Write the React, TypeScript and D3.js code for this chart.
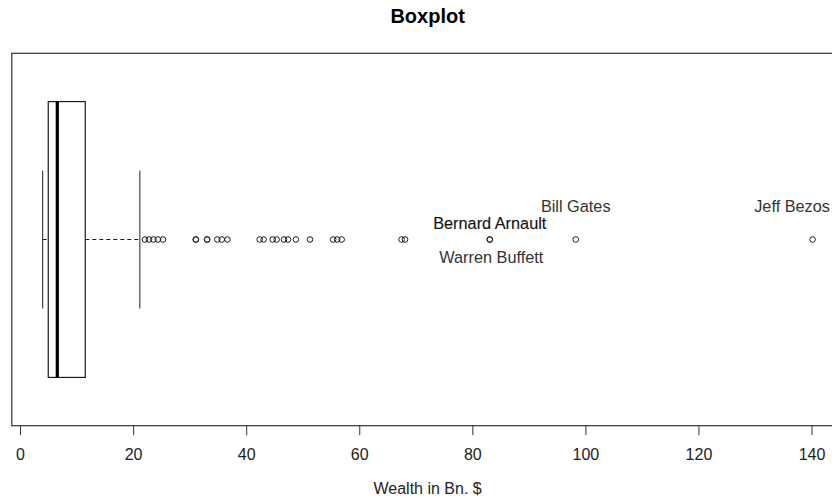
import React from "react";
import * as d3 from "d3";

// Five-number summary of billionaire wealth (Bn. $): lower whisker, Q1, median, Q3, upper whisker
const boxStats = [3.9, 4.9, 6.5, 11.45, 21.1];

// Values beyond the upper whisker
const outliers = [
  22.0, 22.7, 23.5, 24.3, 25.2,
  31.0, 31.0, 33.0, 33.0, 34.8, 35.6, 36.6,
  42.3, 43.0, 44.6, 45.3, 46.6, 47.3, 48.7, 51.2,
  55.3, 56.0, 56.8,
  67.4, 68.0,
  83.0, 83.0, 98.2, 140.1,
];

// Named outliers and their wealth
const names = ["Jeff Bezos", "Bill Gates", "Bernard Arnault", "Warren Buffett"];
const nameValues = [140.1, 98.2, 83.0, 83.0];

const xTicks = [0, 20, 40, 60, 80, 100, 120, 140];

const W = 832;
const H = 499;
const plotLeft = 11.8;
const plotRight = 843.4;
const plotTop = 53.3;
const plotBottom = 425.7;

const FONT = "'Liberation Sans', Arial, Helvetica, sans-serif";

export default function App() {
  const lo = d3.min([boxStats[0], ...outliers]) as number;
  const hi = d3.max([boxStats[4], ...outliers]) as number;
  const pad = (hi - lo) * 0.04;
  const x = d3.scaleLinear().domain([lo - pad, hi + pad]).range([plotLeft, plotRight]);
  // one horizontal group centred at 1
  const y = d3.scaleLinear().domain([0.46, 1.54]).range([plotBottom, plotTop]);

  const [wLo, q1, med, q3, wHi] = boxStats;
  const yc = y(1);
  const boxTop = y(1.4);
  const boxBot = y(0.6);
  const stapTop = y(1.2);
  const stapBot = y(0.8);

  // label placement (pixel offsets from the point)
  const labelLayout: Record<string, { dx: number; dy: number; bold?: boolean }> = {
    "Jeff Bezos": { dx: -20.5, dy: -28 },
    "Bill Gates": { dx: 0, dy: -28 },
    "Bernard Arnault": { dx: 0, dy: -11, bold: true },
    "Warren Buffett": { dx: 1.5, dy: 23 },
  };

  const ink = "#1a1a1a";

  return (
    <div style={{ position: "absolute", left: 0, top: 0 }}>
      <svg width={W} height={H} style={{ display: "block", background: "#fff" }}>
        <text
          x={(plotLeft + plotRight) / 2}
          y={23}
          textAnchor="middle"
          fontFamily={FONT}
          fontWeight="bold"
          fontSize={20}
          fill="#000"
        >
          Boxplot
        </text>

        {/* plot frame */}
        <rect
          x={plotLeft}
          y={plotTop}
          width={plotRight - plotLeft}
          height={plotBottom - plotTop}
          fill="none"
          stroke="#333"
          strokeWidth={1.2}
        />

        {/* whiskers */}
        <line x1={x(wLo)} x2={x(q1)} y1={yc} y2={yc} stroke={ink} strokeDasharray="4,3" />
        <line x1={x(q3)} x2={x(wHi)} y1={yc} y2={yc} stroke={ink} strokeDasharray="4,3" />
        <line x1={x(wLo)} x2={x(wLo)} y1={stapTop} y2={stapBot} stroke="#444" strokeWidth={1.2} />
        <line x1={x(wHi)} x2={x(wHi)} y1={stapTop} y2={stapBot} stroke="#444" strokeWidth={1.2} />

        {/* box */}
        <rect
          x={x(q1)}
          y={boxTop}
          width={x(q3) - x(q1)}
          height={boxBot - boxTop}
          fill="none"
          stroke={ink}
          strokeWidth={1.2}
        />
        <line x1={x(med)} x2={x(med)} y1={boxTop} y2={boxBot} stroke="#000" strokeWidth={3.2} />

        {/* outliers */}
        {outliers.map((v, i) => (
          <circle key={i} cx={x(v)} cy={yc} r={2.8} fill="none" stroke={ink} strokeWidth={1} />
        ))}

        {/* names */}
        {names.map((n, i) => {
          const l = labelLayout[n];
          return (
            <text
              key={n}
              x={x(nameValues[i]) + l.dx}
              y={yc + l.dy}
              textAnchor="middle"
              fontFamily={FONT}
              fontSize={16.3}
              fill={l.bold ? "#111" : "#333"}
              stroke={l.bold ? "#222" : "none"}
              strokeWidth={l.bold ? 0.15 : 0}
            >
              {n}
            </text>
          );
        })}

        {/* x axis */}
        {xTicks.map((t) => (
          <g key={t}>
            <line x1={x(t)} x2={x(t)} y1={plotBottom} y2={plotBottom + 9.5} stroke="#333" />
            <text
              x={x(t)}
              y={460}
              textAnchor="middle"
              fontFamily={FONT}
              fontSize={16}
              fill="#222"
            >
              {t}
            </text>
          </g>
        ))}
        <text
          x={(plotLeft + plotRight) / 2}
          y={494}
          textAnchor="middle"
          fontFamily={FONT}
          fontSize={16}
          fill="#222"
        >
          Wealth in Bn. $
        </text>
      </svg>
    </div>
  );
}
